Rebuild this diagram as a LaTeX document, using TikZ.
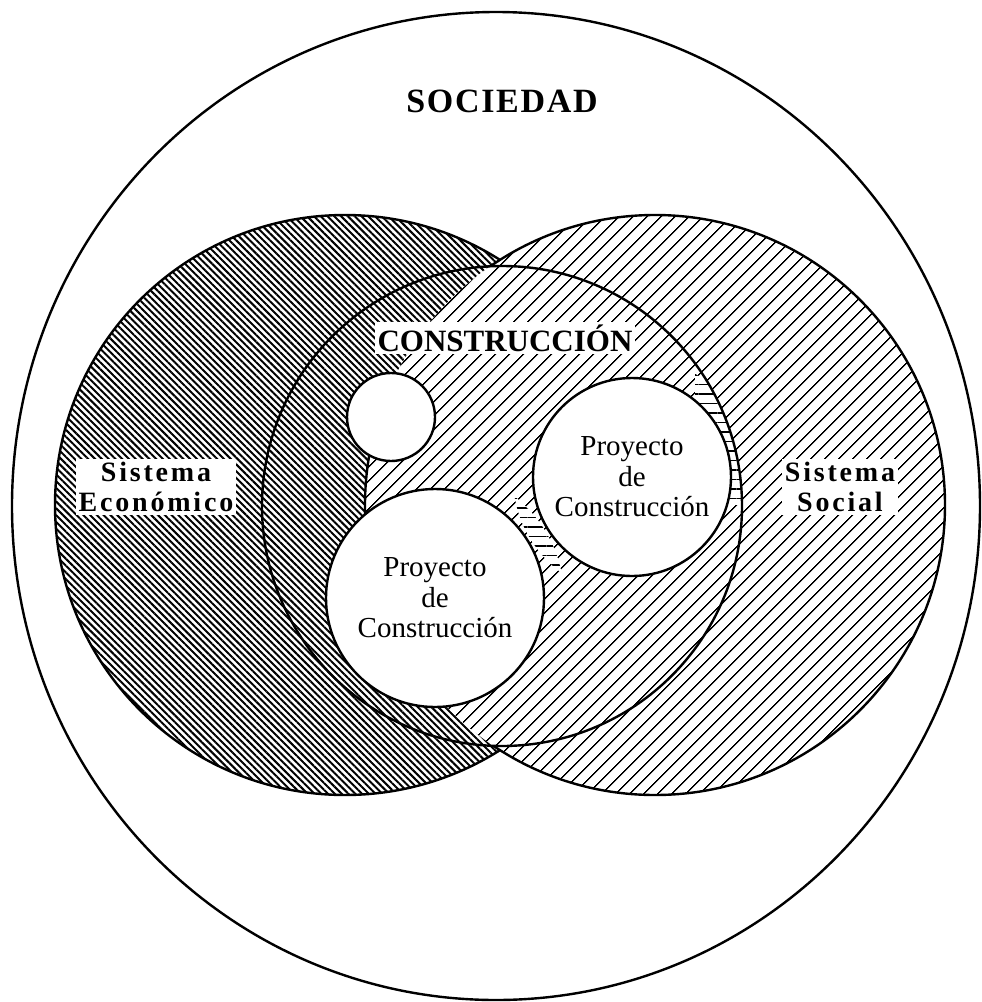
\documentclass[tikz,border=0pt]{standalone}
\usepackage{fontspec}
\setmainfont{Liberation Serif}
\usetikzlibrary{patterns.meta}

\tikzset{
  ring/.style={line width=2.4pt},
  densehatch/.style={pattern={Lines[angle=-45,distance=4.8pt,line width=2pt]}},
  widehatch/.style={pattern={Lines[angle=45,distance=10.5pt,line width=1.6pt]}},
  flathatch/.style={pattern={Lines[angle=0,distance=9.5pt,line width=1.5pt]}},
  proy/.style={circle,draw,line width=2.4pt,fill=white,inner sep=0pt,align=center,
    font=\fontsize{29}{30.5}\selectfont},
  tag/.style={fill=white,inner sep=3pt,align=center,
    font=\fontsize{28}{30}\selectfont\bfseries\addfontfeatures{LetterSpace=10}}
}

\begin{document}
\begin{tikzpicture}[x=1pt,y=-1pt]
    \useasboundingbox (0,0) rectangle (982,1002);
    \coordinate (soc) at (496,506);
    \coordinate (eco) at (345,505);
    \coordinate (soci) at (655,505);
    \coordinate (con) at (502,506);
    \coordinate (mini) at (391,417);
    % sociedad and the two systems
    \draw[ring] (soc) ellipse [x radius=484, y radius=494];
    \draw[ring,densehatch] (eco) circle (290);
    \fill[white] (soci) circle (290);
    \fill[widehatch] (soci) circle (290);
    \begin{scope}[even odd rule]
        \clip (0,0) rectangle (982,1002) (con) circle (240);
        \draw[ring] (soci) circle (290);
    \end{scope}
    \begin{scope}
        \clip (340,440) rectangle (400,520);
        \draw[ring] (soci) circle (290);
    \end{scope}
    % narrow gaps
    \begin{scope}
        \clip (con) circle (240);
        \clip (632,477) circle (121);
        \clip (695,370) rectangle (760,505);
        \fill[white] (695,370) rectangle (760,505);
        \fill[flathatch] (695,370) rectangle (760,505);
    \end{scope}
    \begin{scope}
        \clip (632,477) circle (119);
        \clip (435,598) circle (129);
        \fill[white] (400,400) rectangle (700,700);
        \fill[flathatch] (400,400) rectangle (700,700);
    \end{scope}
    % construccion
    \draw[ring] (con) circle (240);
    \draw[ring,fill=white] (mini) circle (44);
    \node[proy, minimum size=198pt] (pr1) at (632,477) {Proyecto\\de\\Construcción};
    \node[proy, minimum size=218pt] (pr2) at (435,598) {Proyecto\\de\\Construcción};
    % labels
    \node[font=\fontsize{34}{36}\selectfont\bfseries\addfontfeatures{LetterSpace=5}] (sociedad) at (502,101) {SOCIEDAD};
    \node[tag, font=\fontsize{31}{34}\selectfont\bfseries] (construccion) at (505,338) {CONSTRUCCIÓN};
    \node[tag] (economico) at (156,487) {Sistema\\Económico};
    \node[tag] (social) at (840,487) {Sistema\\Social};
\end{tikzpicture}
\end{document}
